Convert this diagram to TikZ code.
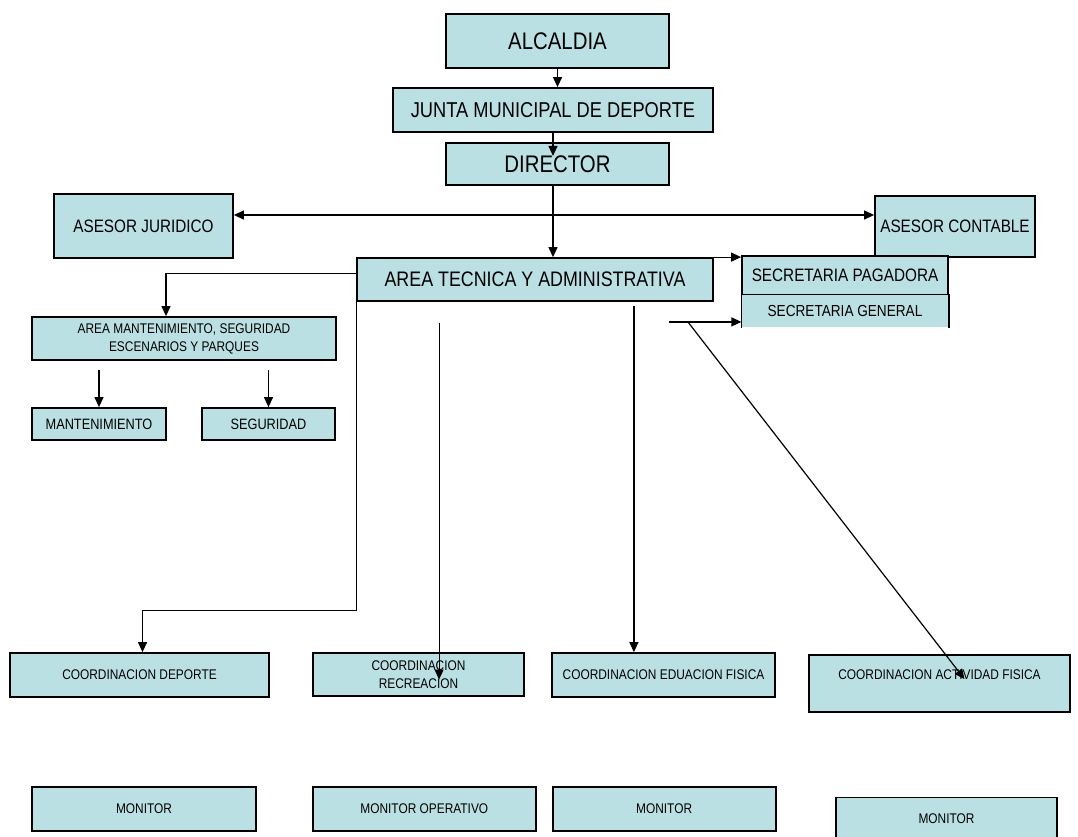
\documentclass[tikz,border=0pt]{standalone}
\usepackage{fontspec}
\setmainfont{Liberation Sans}[FakeStretch=0.85]
\usepackage{tikz}
\usetikzlibrary{arrows.meta, calc, positioning}

\definecolor{boxfill}{RGB}{187,224,227}

\begin{document}
\begin{tikzpicture}[x=1pt, y=-1pt, ->, >={Triangle[length=10pt,width=9pt]}, line width=1.2pt,
    unit/.style={draw=black, line width=1.8pt, fill=boxfill, rectangle, inner sep=0pt, align=center},
    bigtxt/.style={font=\fontsize{24}{28}\selectfont},
    midtxt/.style={font=\fontsize{18}{22}\selectfont},
    smalltxt/.style={font=\fontsize{14}{18}\selectfont}]

    \useasboundingbox (0,0) rectangle (1078,836);

    \node[unit, bigtxt, minimum width=223pt, minimum height=54pt] (ALC) at (557.5,41) {ALCALDIA};
    \node[unit, bigtxt, minimum width=320pt, minimum height=44pt, font=\fontsize{21.5}{25}\selectfont] (JMD) at (553,110) {JUNTA MUNICIPAL DE DEPORTE};
    \node[unit, bigtxt, minimum width=223pt, minimum height=42pt] (DIR) [below=9pt of JMD.south -| ALC] {DIRECTOR};

    \node[unit, midtxt, minimum width=179pt, minimum height=64pt] (AJ) at (143.5,226) {ASESOR JURIDICO};
    \node[unit, midtxt, minimum width=160pt, minimum height=61pt] (AC) at (955,226.5) {ASESOR CONTABLE};

    \node[unit, bigtxt, minimum width=356pt, minimum height=43pt, font=\fontsize{21}{25}\selectfont] (ATA) at (535,279.5) {AREA TECNICA Y ADMINISTRATIVA};
    \node[unit, midtxt, minimum width=206pt, minimum height=39pt] (SP) at (845,275.5) {SECRETARIA PAGADORA};
    \node[fill=boxfill, inner sep=0pt, minimum width=206pt, minimum height=32pt, font=\fontsize{16}{20}\selectfont] (SG) at (845,311) {SECRETARIA GENERAL};
    \draw[-, line width=1.8pt] (SG.south west) -- (SG.north west) -- (SG.north east) -- (SG.south east);

    \node[unit, smalltxt, minimum width=304pt, minimum height=43pt] (AMS) at (184,338.5) {AREA MANTENIMIENTO, SEGURIDAD\\ESCENARIOS Y PARQUES};
    \node[unit, smalltxt, minimum width=134pt, minimum height=32pt, font=\fontsize{15}{18}\selectfont] (MAN) at (99,424) {MANTENIMIENTO};
    \node[unit, smalltxt, minimum width=133pt, minimum height=32pt, font=\fontsize{15}{18}\selectfont] (SEG) at (268.5,424) {SEGURIDAD};

    \node[unit, smalltxt, minimum width=259pt, minimum height=44pt] (CD) at (139.5,675) {COORDINACION DEPORTE};
    \node[unit, smalltxt, minimum width=211pt, minimum height=43pt] (CR) at (418.5,674.5) {COORDINACION\\RECREACION};
    \node[unit, smalltxt, minimum width=223pt, minimum height=44pt] (CE) at (663.5,675) {COORDINACION EDUACION FISICA};
    \node[unit, smalltxt, minimum width=261pt, minimum height=57pt, text height=10pt, text depth=18pt] (CA) at (939.5,683.5) {COORDINACION ACTIVIDAD FISICA};

    \node[unit, smalltxt, minimum width=224pt, minimum height=44pt] (M1) at (144,809) {MONITOR};
    \node[unit, smalltxt, minimum width=223pt, minimum height=44pt] (M2) [right=55pt of M1] {MONITOR OPERATIVO};
    \node[unit, smalltxt, minimum width=223pt, minimum height=44pt] (M3) [right=15pt of M2] {MONITOR};
    \node[unit, smalltxt, minimum width=221pt, minimum height=43pt] (M4) at (946.5,819) {MONITOR};

    % upper chain
    \draw (ALC.south) -- (ALC.south |- JMD.north);
    \draw (JMD.south) -- ([yshift=-14pt]JMD.south |- DIR.north);
    \draw (JMD.south |- DIR.south) -- (JMD.south |- ATA.north);
    \draw[<->] ([yshift=11pt]AJ.east) -- ([yshift=11pt]AJ.east -| AC.west);

    % secretarias
    \coordinate (spStart) at ([xshift=-45pt]ATA.north east);
    \draw (spStart) -- (spStart -| SP.west);
    \coordinate (sgStart) at ([xshift=-45pt,yshift=-20pt]ATA.south east);
    \draw (sgStart) -- (sgStart -| SG.west);

    % areas
    \draw ([yshift=-16pt]ATA.north west) -| ([xshift=-18pt]AMS.north);
    \draw ([yshift=-9pt]AMS.south -| MAN.north) -- (MAN.north);
    \draw ([yshift=-9pt]AMS.south -| SEG.north) -- (SEG.north);

    % coordinaciones
    \draw (ATA.south west) |- ([xshift=3pt,yshift=42pt]CD.north) -- ([xshift=3pt]CD.north);
    \coordinate (crStart) at ([xshift=83pt,yshift=-21pt]ATA.south west);
    \draw (crStart) -- ([yshift=-5pt]crStart |- CR.center);
    \coordinate (ceStart) at ([xshift=-80pt,yshift=-4pt]ATA.south east);
    \draw (ceStart) -- (ceStart |- CE.north);
    \draw ([xshift=-26pt,yshift=-20pt]ATA.south east) -- ([xshift=25pt,yshift=-25pt]CA.north);

\end{tikzpicture}
\end{document}
